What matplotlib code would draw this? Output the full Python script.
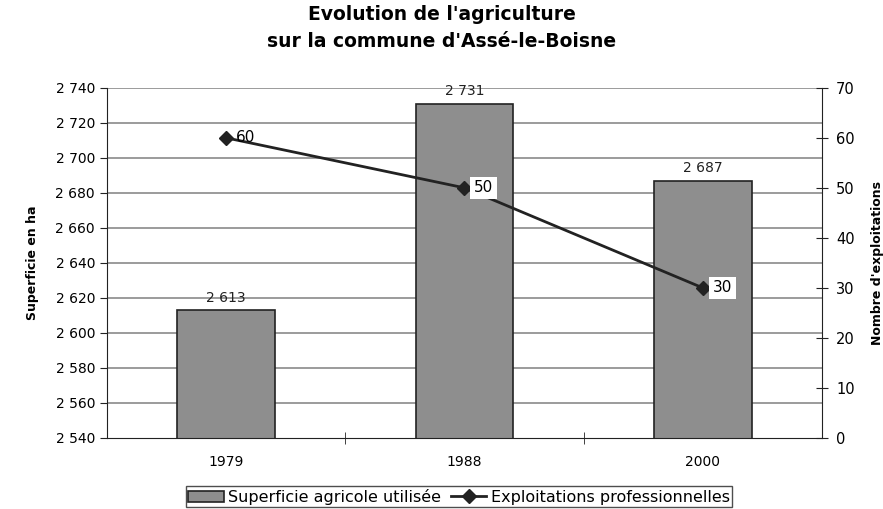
import matplotlib.pyplot as plt
import numpy as np

plt.rcParams['font.family'] = ['DejaVu Sans']

years = ['1979', '1988', '2000']
superficie = [2613, 2731, 2687]
exploitations = [60, 50, 30]
left_ticks = list(range(2540, 2741, 20))
right_ticks = list(range(0, 71, 10))


def fmt(v):
    return f"{v:,}".replace(',', ' ')


fig = plt.figure(figsize=(8.83, 5.09), dpi=100)
ax = fig.add_axes([0.121, 0.1395, 0.81, 0.688])
x = np.arange(len(years))

ax.set_ylim(2540, 2740)
ax.set_xlim(-0.5, 2.5)
for t in left_ticks[1:]:
    ax.axhline(t, color='#8a8a8a', lw=1.2, zorder=0)

bars = ax.bar(x, superficie, width=0.41, bottom=0, color='#8e8e8e',
              edgecolor='#222222', lw=1.2, zorder=2, label='Superficie agricole utilisée')
for xi, v in zip(x, superficie):
    ax.text(xi, v + 3, fmt(v), ha='center', va='bottom', fontsize=10, color='#222222')

ax.set_yticks(left_ticks)
ax.set_yticklabels([fmt(t) for t in left_ticks], fontsize=10)
ax.set_xticks(x)
ax.set_xticklabels(years, fontsize=10)
ax.set_xticks([0.5, 1.5], minor=True)
ax.tick_params(axis='x', which='major', length=0, pad=12)
ax.tick_params(axis='x', which='minor', length=8, direction='inout', color='#222222')
ax.tick_params(axis='y', length=5, direction='out', color='#222222')
ax.spines['top'].set_visible(False)
ax.spines['left'].set_color('#222222')
ax.spines['bottom'].set_color('#222222')
ax.spines['right'].set_visible(False)
ax.set_ylabel('Superficie en ha', fontsize=9, fontweight='bold', labelpad=12)

ax2 = ax.twinx()
ax2.set_ylim(0, 70)
ax2.set_yticks(right_ticks)
ax2.tick_params(axis='y', length=8, direction='inout', color='#222222', labelsize=10.5, pad=6)
for s in ['top', 'left', 'bottom']:
    ax2.spines[s].set_visible(False)
ax2.spines['right'].set_color('#222222')
line, = ax2.plot(x, exploitations, color='#222222', lw=2, marker='D', ms=7,
                 label='Exploitations professionnelles', zorder=3)
for i, (xi, v) in enumerate(zip(x, exploitations)):
    bbox = None if i == 0 else dict(boxstyle='square,pad=0.25', fc='white', ec='none')
    ax2.annotate(str(v), (xi, v), xytext=(7, 0), textcoords='offset points',
                 ha='left', va='center', fontsize=11, bbox=bbox, zorder=4)
ax2.set_ylabel("Nombre d'exploitations", fontsize=9, fontweight='bold', labelpad=12)

fig.suptitle("Evolution de l'agriculture\nsur la commune d'Assé-le-Boisne",
             y=0.99, fontsize=13.5, fontweight='bold', linespacing=1.55)

leg = fig.legend([bars, line], ['Superficie agricole utilisée', 'Exploitations professionnelles'],
                 loc='lower center', bbox_to_anchor=(0.52, -0.012), ncol=2, frameon=True,
                 fancybox=False, edgecolor='#222222', fontsize=11.5, handlelength=2.2,
                 handletextpad=0.3, columnspacing=0.6, borderpad=0.15)

fig.savefig('out.png', dpi=100, facecolor='white')
